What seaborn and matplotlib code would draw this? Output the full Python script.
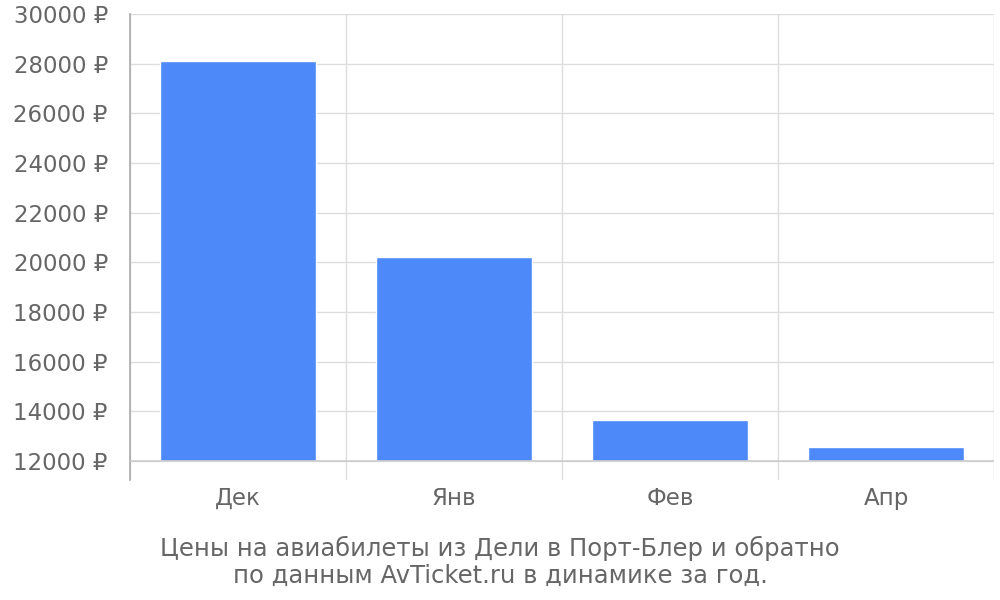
import numpy as np
import pandas as pd
import matplotlib
matplotlib.use("Agg")
import matplotlib.pyplot as plt
import seaborn as sns

months = ["Дек", "Янв", "Фев", "Апр"]
prices = [28120, 20200, 13660, 12580]
BASE = 12000
yticks = list(range(12000, 30001, 2000))
caption = "Цены на авиабилеты из Дели в Порт-Блер и обратно\nпо данным AvTicket.ru в динамике за год."

BAR_COLOR = "#4D89F9"
GRID = "#DDDDDD"
TEXT = "#666666"

sns.set_theme(style="white")
plt.rcParams["font.family"] = ["DejaVu Sans"]

df = pd.DataFrame({"month": months, "price": prices})
df["height"] = df["price"] - BASE

fig = plt.figure(figsize=(10, 6), dpi=100)
ax = fig.add_axes([0.13, 0.20, 0.864, 0.7767])

sns.barplot(data=df, x="month", y="height", bottom=BASE, color=BAR_COLOR,
            saturation=1, width=0.72, errorbar=None, ax=ax, zorder=3)

ax.set_xlim(-0.5, len(months) - 0.5)
ax.set_ylim(11235, 30000)
ax.set_yticks(yticks)
ax.set_yticklabels([f"{v} ₽" for v in yticks])
ax.set_xlabel("")
ax.set_ylabel("")

# category boundary lines
ax.set_xticks(np.arange(-0.5, len(months), 1.0), minor=True)
ax.grid(axis="x", which="minor", color=GRID, lw=1, zorder=0)
ax.grid(axis="y", which="major", color=GRID, lw=1, zorder=0)
ax.axhline(BASE, color="#CCCCCC", lw=1.2, zorder=4)

ax.tick_params(axis="y", length=14, width=1, color=GRID, labelsize=16.5,
               labelcolor=TEXT, pad=2)
ax.tick_params(axis="x", which="major", length=0, labelsize=16.5,
               labelcolor=TEXT, pad=5)
ax.tick_params(axis="x", which="minor", length=0)

for side in ("top", "right", "bottom"):
    ax.spines[side].set_visible(False)
ax.spines["left"].set_color("#AAAAAA")
ax.spines["left"].set_linewidth(1.2)

fig.text(0.5, 0.063, caption, ha="center", va="center", fontsize=17.5,
         color=TEXT, linespacing=1.15)

fig.savefig("out.png", dpi=100)
plt.close(fig)
